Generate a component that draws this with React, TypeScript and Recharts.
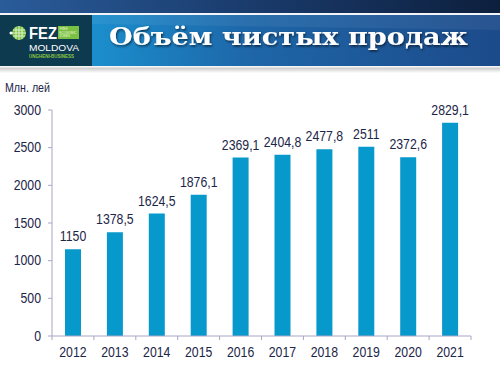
import React from 'react';
import { BarChart, Bar, XAxis, YAxis, LabelList } from 'recharts';

const years = ['2012', '2013', '2014', '2015', '2016', '2017', '2018', '2019', '2020', '2021'];
const sales = [1150, 1378.5, 1624.5, 1876.1, 2369.1, 2404.8, 2477.8, 2511, 2372.6, 2829.1];
const yTicks = [0, 500, 1000, 1500, 2000, 2500, 3000];
const title = 'Объём чистых продаж';
const unitLabel = 'Млн. лей';

const data = years.map((year, i) => ({ year, value: sales[i] }));

const W = 500;
const H = 375;
const MARGIN = { top: 110, right: 29, bottom: 0, left: 0 };
const YAXIS_W = 52;
const PLOT_W = W - MARGIN.left - MARGIN.right - YAXIS_W;
const AXIS_COLOR = '#a6a6c6';
const TEXT_COLOR = '#1c2548';
const BAR_COLOR = '#0899cc';
const FONT = '"Liberation Sans", Arial, sans-serif';
const NARROW = 0.82;
const FS = 15;

const NarrowText = ({ x, y, anchor, dy, children }: any) => (
  <g transform={`translate(${x},${y})`}>
    <text transform={`scale(${NARROW},1)`} x={0} y={0} dy={dy} textAnchor={anchor} fill={TEXT_COLOR} fontSize={FS} fontFamily={FONT}>
      {children}
    </text>
  </g>
);

const XTick = (props: any) => {
  const { x, y, payload, index } = props;
  const bw = PLOT_W / years.length;
  const axisY = y - 10;
  return (
    <g>
      <line x1={x - bw / 2} x2={x - bw / 2} y1={axisY} y2={axisY + 4} stroke={AXIS_COLOR} />
      {index === years.length - 1 && (
        <line x1={x + bw / 2} x2={x + bw / 2} y1={axisY} y2={axisY + 4} stroke={AXIS_COLOR} />
      )}
      <NarrowText x={x} y={y} anchor="middle" dy="0.71em">{payload.value}</NarrowText>
    </g>
  );
};

const YTick = (props: any) => {
  const { x, y, payload } = props;
  return <NarrowText x={x} y={y} anchor="end" dy="0.3em">{payload.value}</NarrowText>;
};

const BarLabel = (props: any) => {
  const { x, y, width, value } = props;
  return (
    <NarrowText x={Number(x) + Number(width) / 2} y={Number(y) - 8} anchor="middle" dy="0">
      {String(value).replace('.', ',')}
    </NarrowText>
  );
};

const Header = () => (
  <svg width={W} height={75} style={{ position: 'absolute', left: 0, top: 0 }}>
    <defs>
      <linearGradient id="topband" x1="0" x2="1" y1="0" y2="0">
        <stop offset="0%" stopColor="#2a5c9a" />
        <stop offset="50%" stopColor="#1a3b6c" />
        <stop offset="100%" stopColor="#0d1f3d" />
      </linearGradient>
      <linearGradient id="banner" x1="0" x2="1" y1="0" y2="0">
        <stop offset="0%" stopColor="#1ea4de" />
        <stop offset="25%" stopColor="#1b86c6" />
        <stop offset="50%" stopColor="#1e66a8" />
        <stop offset="100%" stopColor="#1c4a8a" />
      </linearGradient>
      <linearGradient id="shadow" x1="0" x2="0" y1="0" y2="1">
        <stop offset="0%" stopColor="#ffffff" />
        <stop offset="35%" stopColor="#d0d0d0" />
        <stop offset="100%" stopColor="#ffffff" />
      </linearGradient>
      <filter id="tshadow" x="-5%" y="-20%" width="110%" height="150%">
        <feDropShadow dx="1" dy="1.5" stdDeviation="1" floodColor="#000" floodOpacity="0.6" />
      </filter>
    </defs>
    <rect x={0} y={0} width={W} height={13} fill="url(#topband)" />
    <rect x={0} y={13} width={W} height={2} fill="#f2f4f8" />
    <rect x={0} y={15} width={W} height={51} fill="url(#banner)" />
    <polygon points="92,15 500,15 500,30 92,24" fill="#ffffff" opacity={0.06} />
    <rect x={0} y={66} width={W} height={7} fill="url(#shadow)" />
    <rect x={0} y={15} width={92} height={51} fill="#0e3a50" />
    <circle cx={19} cy={33} r={7} fill="#7cc242" />
    <g stroke="#ffffff" strokeWidth={0.8} opacity={0.9}>
      <line x1={13} x2={25} y1={30} y2={30} />
      <line x1={12} x2={26} y1={33} y2={33} />
      <line x1={13} x2={25} y1={36} y2={36} />
      <line x1={16} x2={16} y1={27} y2={39} />
      <line x1={19} x2={19} y1={26} y2={40} />
      <line x1={22} x2={22} y1={27} y2={39} />
    </g>
    <circle cx={11} cy={33} r={1.5} fill="#ffffff" />
    <text x={29} y={39} fill="#ffffff" fontSize={16} fontWeight="bold" fontFamily={FONT} textLength={28} lengthAdjust="spacingAndGlyphs">FEZ</text>
    <rect x={58} y={26} width={21} height={13} fill="#7ac143" />
    <text x={59.5} y={29.6} fill="#eaf6dc" fontSize={3.1} fontFamily={FONT}>FREE</text>
    <text x={59.5} y={33.5} fill="#eaf6dc" fontSize={3.1} fontFamily={FONT}>ECONOMIC</text>
    <text x={59.5} y={37.4} fill="#eaf6dc" fontSize={3.1} fontFamily={FONT}>ZONES</text>
    <text x={29} y={50.5} fill="#ffffff" fontSize={9} fontFamily={FONT} textLength={50} lengthAdjust="spacingAndGlyphs">MOLDOVA</text>
    <text x={29} y={57.5} fill="#8dc63f" fontSize={5} fontWeight="bold" fontFamily={FONT} textLength={45} lengthAdjust="spacingAndGlyphs">UNGHENI-BUSINESS</text>
    <text x={109} y={45} fill="#ffffff" fontSize={25} fontWeight="bold" fontFamily='"DejaVu Serif", "Liberation Serif", serif' textLength={359} lengthAdjust="spacingAndGlyphs" filter="url(#tshadow)">{title}</text>
  </svg>
);

export default function App() {
  return (
    <div style={{ position: 'absolute', left: 0, top: 0, width: W, height: H, background: '#ffffff', overflow: 'hidden' }}>
      <Header />
      <svg width={60} height={20} style={{ position: 'absolute', left: 0, top: 80 }}>
        <g transform="translate(5,12)">
          <text transform={`scale(${NARROW},1)`} x={0} y={0} fill={TEXT_COLOR} fontSize={13} fontFamily={FONT}>{unitLabel}</text>
        </g>
      </svg>
      <div style={{ position: 'absolute', left: 0, top: 0 }}>
        <BarChart width={W} height={H} data={data} margin={MARGIN}>
          <XAxis
            dataKey="year"
            height={39}
            axisLine={{ stroke: AXIS_COLOR }}
            tickLine={false}
            tickSize={4}
            tickMargin={6}
            tick={<XTick />}
            interval={0}
          />
          <YAxis
            width={YAXIS_W}
            domain={[0, 3000]}
            ticks={yTicks}
            interval={0}
            axisLine={{ stroke: AXIS_COLOR }}
            tickLine={{ stroke: AXIS_COLOR }}
            tickSize={4}
            tickMargin={7}
            tick={<YTick />}
          />
          <Bar dataKey="value" fill={BAR_COLOR} barSize={16} isAnimationActive={false}>
            <LabelList dataKey="value" content={<BarLabel />} />
          </Bar>
        </BarChart>
      </div>
    </div>
  );
}
